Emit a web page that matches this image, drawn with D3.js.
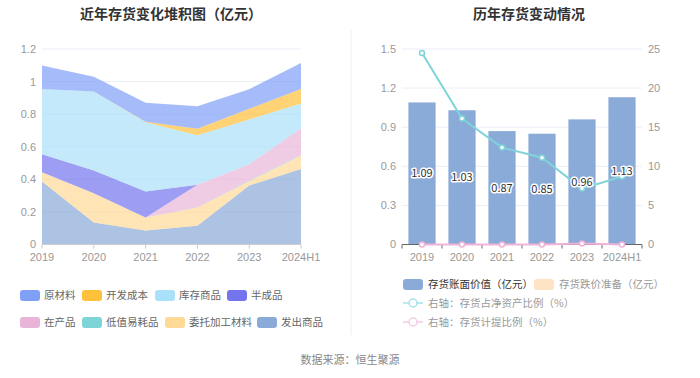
<!DOCTYPE html>
<html><head><meta charset="utf-8">
<script src="https://cdn.jsdelivr.net/npm/d3@7"></script>
<style>body{margin:0;background:#fff;font-family:"Noto Sans CJK SC","Noto Sans",sans-serif}</style>
</head><body><svg id="c" width="700" height="378"></svg>
<script>
const years = ["2019","2020","2021","2022","2023","2024H1"];
// stacked series (亿元), bottom to top
const fachu   = [0.386,0.135,0.086,0.115,0.362,0.464]; // 发出商品
const weituo  = [0.058,0.180,0.080,0.112,0.027,0.082]; // 委托加工材料
const dizhi   = [0.000,0.000,0.000,0.002,0.003,0.004]; // 低值易耗品
const zaichan = [0.000,0.000,0.000,0.137,0.100,0.163]; // 在产品
const banchen = [0.110,0.139,0.160,0.000,0.000,0.000]; // 半成品
const kucun   = [0.401,0.485,0.425,0.305,0.276,0.153]; // 库存商品
const kaifa   = [0.000,0.000,0.002,0.039,0.065,0.088]; // 开发成本
const yuancl  = [0.143,0.090,0.117,0.139,0.120,0.160]; // 原材料
const bookValue = [1.09,1.03,0.87,0.85,0.96,1.13];
const impairment = [0,0,0,0,0,0];
const ratioNet = [24.5,16.1,12.4,11.1,7.15,8.7];
const ratioProv = [0,0,0,0,0.12,0];
const leftTicks = [0,0.2,0.4,0.6,0.8,1,1.2];
const rightTicksL = [0,0.3,0.6,0.9,1.2,1.5];
const rightTicksR = [0,5,10,15,20,25];

const seriesDefs = [
  {name:"发出商品", data:fachu, color:"#8aaad8"},
  {name:"委托加工材料", data:weituo, color:"#ffd996"},
  {name:"低值易耗品", data:dizhi, color:"#7fd4d8"},
  {name:"在产品", data:zaichan, color:"#e8b5d8"},
  {name:"半成品", data:banchen, color:"#7474ee"},
  {name:"库存商品", data:kucun, color:"#a9e0fa"},
  {name:"开发成本", data:kaifa, color:"#ffc03a"},
  {name:"原材料", data:yuancl, color:"#80a0f8"}
];

const svg = d3.select("#c");
const font = '"Noto Sans CJK SC","Noto Sans",sans-serif';
const numFont = '"Liberation Sans","DejaVu Sans",sans-serif';
const gridC = "#e9eef6", tickC = "#999";

// titles
svg.append("text").attr("x",171).attr("y",19).attr("text-anchor","middle")
  .attr("font-size",14).attr("font-weight","bold").attr("fill","#333").attr("font-family",font)
  .text("近年存货变化堆积图（亿元）");
svg.append("text").attr("x",529).attr("y",19).attr("text-anchor","middle")
  .attr("font-size",14).attr("font-weight","bold").attr("fill","#333").attr("font-family",font)
  .text("历年存货变动情况");
svg.append("line").attr("x1",351).attr("x2",351).attr("y1",30).attr("y2",335).attr("stroke","#f0f0f0");

// ===== Left chart =====
const lx = d3.scalePoint().domain(years).range([42,301]);
const ly = d3.scaleLinear().domain([0,1.2]).range([244.5,49]);
const gL = svg.append("g");
leftTicks.forEach(t=>{
  if(t>0) gL.append("line").attr("x1",42).attr("x2",301).attr("y1",ly(t)).attr("y2",ly(t)).attr("stroke",gridC);
  gL.append("text").attr("x",36).attr("y",ly(t)+(t===0?3:4)).attr("text-anchor","end").attr("font-size",11)
    .attr("fill",tickC).attr("font-family",numFont).text(t);
});
const table = years.map((y,i)=>{const o={year:y}; seriesDefs.forEach(s=>o[s.name]=s.data[i]); return o;});
const stack = d3.stack().keys(seriesDefs.map(s=>s.name))(table);
const area = d3.area().x(d=>lx(d.data.year)).y0(d=>ly(d[0])).y1(d=>ly(d[1]));
stack.forEach((layer,i)=>{
  gL.append("path").attr("d",area(layer)).attr("fill",seriesDefs[i].color).attr("fill-opacity",0.7);
});
gL.append("line").attr("x1",42).attr("x2",301).attr("y1",ly(0)).attr("y2",ly(0)).attr("stroke","#ccc");
years.forEach(y=>{
  gL.append("line").attr("x1",lx(y)).attr("x2",lx(y)).attr("y1",ly(0)).attr("y2",ly(0)+4).attr("stroke","#ccc");
  gL.append("text").attr("x",lx(y)).attr("y",260.5).attr("text-anchor","middle").attr("font-size",11)
    .attr("fill",tickC).attr("font-family",numFont).text(y);
});
// left legend
const legL = [
  {name:"原材料",c:"#80a0f8",x:20,y:295},{name:"开发成本",c:"#ffc03a",x:82,y:295},
  {name:"库存商品",c:"#a9e0fa",x:155,y:295},{name:"半成品",c:"#7474ee",x:227,y:295},
  {name:"在产品",c:"#e8b5d8",x:20,y:322},{name:"低值易耗品",c:"#7fd4d8",x:82,y:322},
  {name:"委托加工材料",c:"#ffd996",x:165,y:322},{name:"发出商品",c:"#8aaad8",x:257,y:322}
];
legL.forEach(l=>{
  svg.append("rect").attr("x",l.x).attr("y",l.y-5).attr("width",20).attr("height",11).attr("rx",3).attr("fill",l.c);
  svg.append("text").attr("x",l.x+24).attr("y",l.y+4).attr("font-size",10.5).attr("fill","#666")
    .attr("font-family",font).text(l.name);
});

// ===== Right chart =====
const rx = d3.scaleBand().domain(years).range([402,642]).paddingInner(0.32).paddingOuter(0.16);
const ryL = d3.scaleLinear().domain([0,1.5]).range([244.5,49]);
const ryR = d3.scaleLinear().domain([0,25]).range([244.5,49]);
const gR = svg.append("g");
rightTicksL.forEach(t=>{
  if(t>0) gR.append("line").attr("x1",402).attr("x2",642).attr("y1",ryL(t)).attr("y2",ryL(t)).attr("stroke",gridC);
  gR.append("text").attr("x",396).attr("y",ryL(t)+(t===0?3:4)).attr("text-anchor","end").attr("font-size",11)
    .attr("fill",tickC).attr("font-family",numFont).text(t);
});
rightTicksR.forEach(t=>{
  gR.append("text").attr("x",648).attr("y",ryR(t)+(t===0?3:4)).attr("text-anchor","start").attr("font-size",11)
    .attr("fill",tickC).attr("font-family",numFont).text(t);
});
years.forEach((y,i)=>{
  gR.append("rect").attr("x",rx(y)).attr("y",ryL(bookValue[i])).attr("width",rx.bandwidth())
    .attr("height",ryL(0)-ryL(bookValue[i])).attr("fill","#8aaad8");
});
gR.append("line").attr("x1",402).attr("x2",642).attr("y1",ryL(0)).attr("y2",ryL(0)).attr("stroke","#666");
const step = 240/6;
years.forEach((y,i)=>{
  const cx = rx(y)+rx.bandwidth()/2;
  gR.append("line").attr("x1",402+step*i).attr("x2",402+step*i).attr("y1",ryL(0)).attr("y2",ryL(0)+4).attr("stroke","#666");
  gR.append("text").attr("x",cx).attr("y",260.5).attr("text-anchor","middle").attr("font-size",11)
    .attr("fill",tickC).attr("font-family",numFont).text(y);
});
gR.append("line").attr("x1",642).attr("x2",642).attr("y1",ryL(0)).attr("y2",ryL(0)+4).attr("stroke","#666");
const line = d3.line().x((d,i)=>rx(years[i])+rx.bandwidth()/2).y(d=>ryR(d));
gR.append("path").attr("d",line(ratioProv)).attr("fill","none").attr("stroke","#f0b3d8").attr("stroke-width",2);
gR.append("path").attr("d",line(ratioNet)).attr("fill","none").attr("stroke","#7fd4d8").attr("stroke-width",2);
ratioProv.forEach((v,i)=>gR.append("circle").attr("cx",rx(years[i])+rx.bandwidth()/2).attr("cy",ryR(v)).attr("r",2.5)
  .attr("fill","#fff").attr("stroke","#f0b3d8").attr("stroke-width",1.5));
ratioNet.forEach((v,i)=>gR.append("circle").attr("cx",rx(years[i])+rx.bandwidth()/2).attr("cy",ryR(v)).attr("r",2.5)
  .attr("fill","#fff").attr("stroke","#7fd4d8").attr("stroke-width",1.5));
bookValue.forEach((v,i)=>{
  gR.append("text").attr("x",rx(years[i])+rx.bandwidth()/2).attr("y",ryL(v/2)+4).attr("text-anchor","middle")
    .attr("font-size",11).attr("fill","#333").attr("stroke","#fff").attr("stroke-width",3)
    .attr("paint-order","stroke").attr("stroke-linejoin","round").attr("font-family",font).text(v.toFixed(2));
});
// right legend
const lg = svg.append("g").attr("font-family",font).attr("font-size",10.5);
lg.append("rect").attr("x",403).attr("y",279).attr("width",20).attr("height",11).attr("rx",3).attr("fill","#8aaad8");
lg.append("text").attr("x",428).attr("y",288).attr("fill","#333").text("存货账面价值（亿元）");
lg.append("rect").attr("x",534).attr("y",279).attr("width",20).attr("height",11).attr("rx",3).attr("fill","#fde3c4");
lg.append("text").attr("x",559).attr("y",288).attr("fill","#999").text("存货跌价准备（亿元）");
[[303,"#a5e3e6","右轴：存货占净资产比例（%）"],[322,"#f5cce4","右轴：存货计提比例（%）"]].forEach(([y,c,t])=>{
  lg.append("line").attr("x1",403).attr("x2",423).attr("y1",y).attr("y2",y).attr("stroke",c).attr("stroke-width",1.5);
  lg.append("circle").attr("cx",413).attr("cy",y).attr("r",4).attr("fill","#fff").attr("stroke",c).attr("stroke-width",1.5);
  lg.append("text").attr("x",428).attr("y",y+4).attr("fill","#999").text(t);
});
svg.append("text").attr("x",350).attr("y",364).attr("text-anchor","middle").attr("font-size",11)
  .attr("fill","#888").attr("font-family",font).text("数据来源：恒生聚源");
</script></body></html>
